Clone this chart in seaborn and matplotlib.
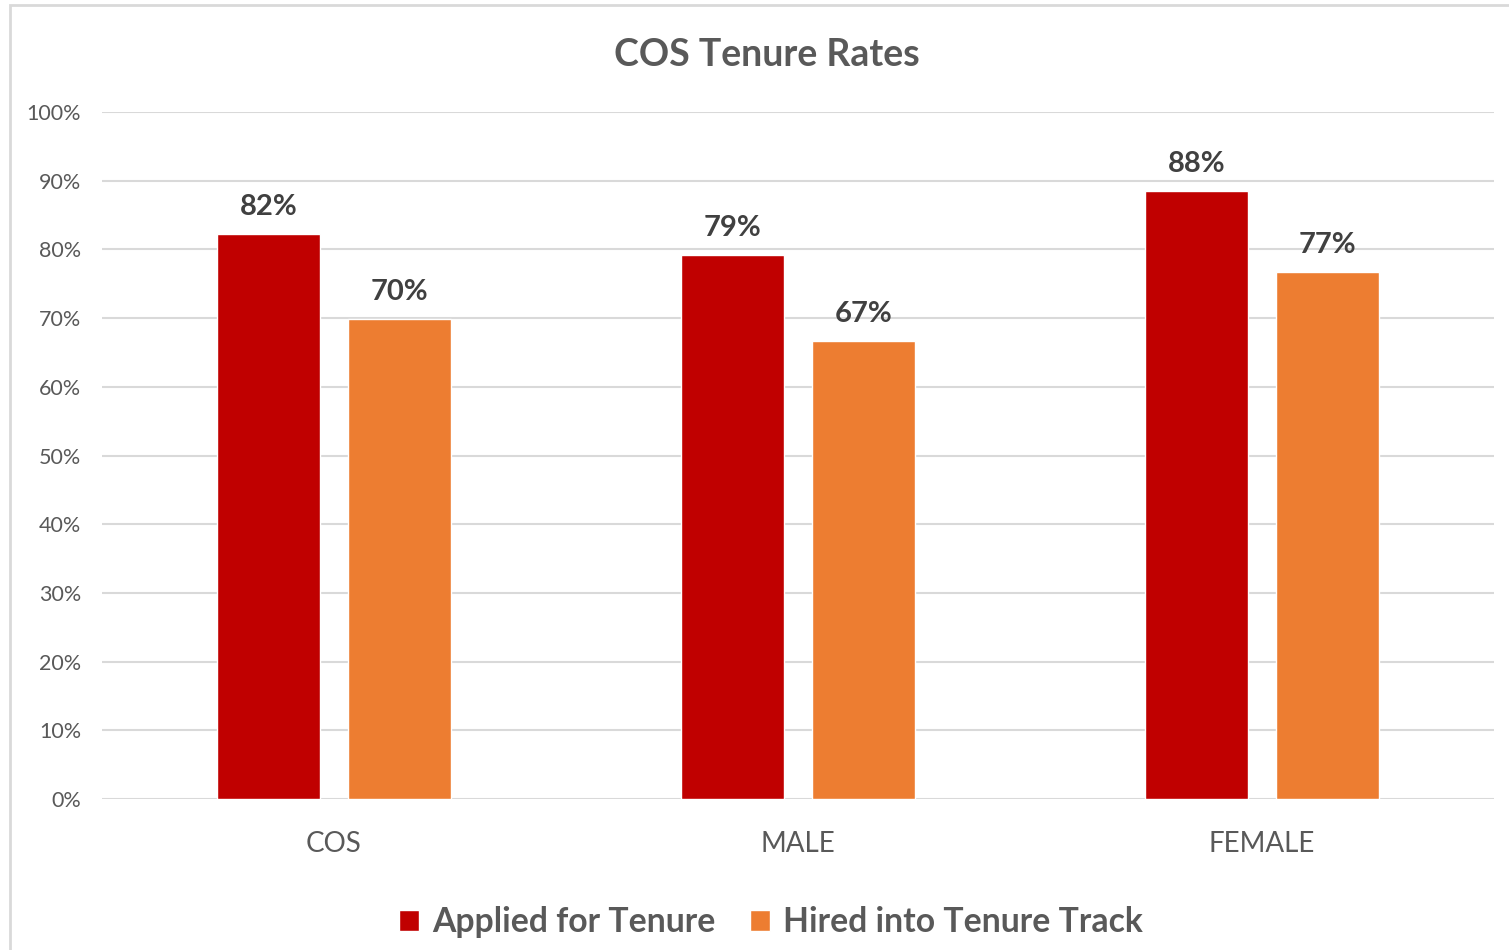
import pandas as pd
import matplotlib.pyplot as plt
import seaborn as sns
from matplotlib.patches import Rectangle

# Chart data
groups = ["COS", "MALE", "FEMALE"]
series = ["Applied for Tenure", "Hired into Tenure Track"]
applied = [82.2, 79.2, 88.5]
hired = [69.9, 66.7, 76.7]
applied_labels = ["82%", "79%", "88%"]
hired_labels = ["70%", "67%", "77%"]
y_ticks = [0, 10, 20, 30, 40, 50, 60, 70, 80, 90, 100]

colors = ["#C00000", "#ED7D31"]

df = pd.DataFrame({
    "group": groups * 2,
    "series": [series[0]] * 3 + [series[1]] * 3,
    "value": applied + hired,
})

sns.set_theme(style="white")
plt.rcParams["font.family"] = ["Lato", "DejaVu Sans"]

fig = plt.figure(figsize=(15.09, 9.5), dpi=100)
ax = fig.add_axes([0.0676, 0.159, 0.9224, 0.723])

sns.barplot(data=df, x="group", y="value", hue="series", palette=colors,
            width=0.566, gap=0.215, saturation=1, ax=ax, legend=True)

# data labels
labels = applied_labels + hired_labels
for bar, lab in zip(ax.patches, labels):
    ax.annotate(lab, (bar.get_x() + bar.get_width() / 2, bar.get_height()),
                xytext=(0, 10), textcoords="offset points", ha="center", va="bottom",
                fontsize=21, fontweight="bold", color="#404040")

ax.set_ylim(0, 100)
ax.set_xlim(-0.5, 2.5)
ax.set_yticks(y_ticks)
ax.set_yticklabels([f"{t}%" for t in y_ticks], fontsize=15.5, color="#595959")
ax.tick_params(axis="y", length=0, pad=15)
ax.tick_params(axis="x", length=0, pad=23)
for t in ax.get_xticklabels():
    t.set_fontsize(20)
    t.set_color("#595959")
ax.set_xlabel("")
ax.set_ylabel("")
ax.yaxis.grid(True, color="#D9D9D9", linewidth=1.5)
ax.set_axisbelow(True)
for s in ax.spines.values():
    s.set_visible(False)

fig.text(0.508, 0.942, "COS Tenure Rates", ha="center", va="center",
         fontsize=27, fontweight="bold", color="#595959")

handles, _ = ax.get_legend_handles_labels()
ax.legend_.remove()
fig.legend(handles, series, loc="center", bbox_to_anchor=(0.511, 0.029), ncol=2,
           frameon=False, handlelength=0.6, handleheight=0.6, handletextpad=0.4,
           columnspacing=1.0, prop={"size": 24.3, "weight": "bold"}, labelcolor="#595959")

# outer chart border (cut off at right and bottom)
fig.patches.append(Rectangle((10 / 1509, -0.1), 1.2, 1 - 5 / 950 + 0.1,
                             transform=fig.transFigure, fill=False,
                             edgecolor="#D9D9D9", linewidth=2))

fig.savefig("out.png", dpi=100)
